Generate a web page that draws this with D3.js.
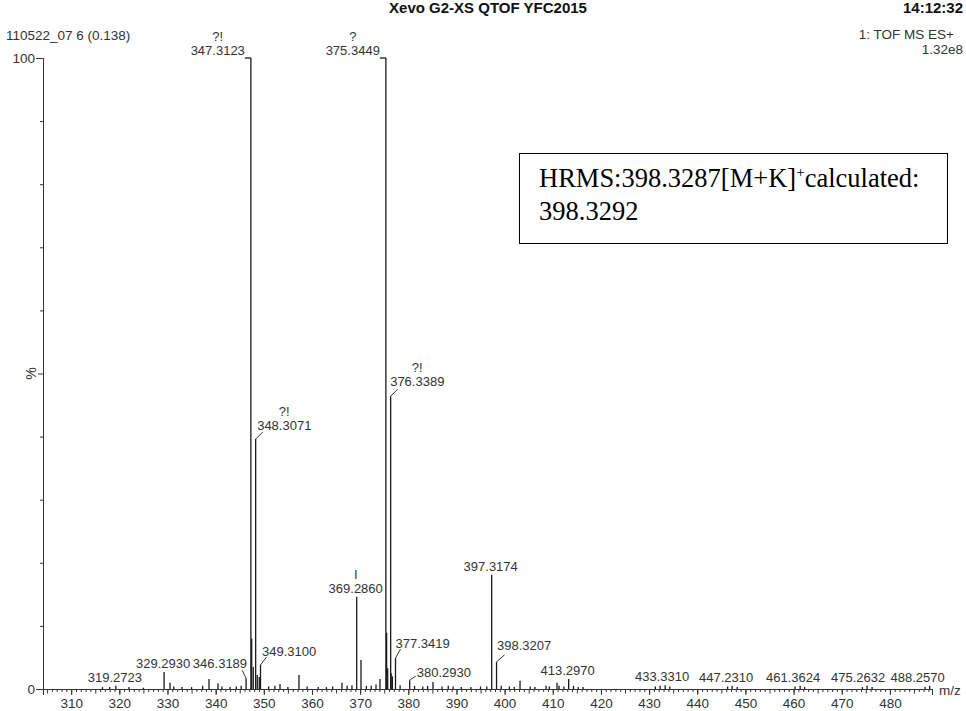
<!DOCTYPE html>
<html>
<head>
<meta charset="utf-8">
<script src="https://cdn.jsdelivr.net/npm/d3@7/dist/d3.min.js"></script>
<style>
  html, body { margin: 0; padding: 0; background: #fff; }
  svg { display: block; }
</style>
</head>
<body>
<script>
// Labelled peaks of the spectrum: m/z, relative intensity (%) and qualifier mark
const labeledMz   = [319.2723, 329.2930, 346.3189, 347.3123, 348.3071, 349.3100, 369.2860,
                     375.3449, 376.3389, 377.3419, 380.2930, 397.3174, 398.3207, 413.2970,
                     433.3310, 447.2310, 461.3624, 475.2632, 488.2570];
const labeledInt  = [0.5, 2.7, 1.7, 100, 39.6, 3.8, 14.6,
                     100, 46.4, 4.9, 1.4, 18.1, 4.3, 1.6,
                     0.6, 0.5, 0.5, 0.5, 0.5];
const labeledNote = ["", "", "", "?!", "?!", "", "I",
                     "?", "?!", "", "", "", "", "",
                     "", "", "", "", ""];

// Unlabelled peaks (isotope shoulders and baseline ions)
const otherMz  = [347.48, 347.81, 348.64, 349.06, 375.50, 375.72, 376.45, 376.70,
                  330.52, 338.62, 340.49, 353.36, 357.30, 366.23, 370.18, 374.12,
                  385.13, 403.20, 408.60, 410.88,
                  316.5, 318.0, 322.0, 325.0, 331.3, 333.0, 335.0, 337.3, 341.3, 343.0,
                  344.3, 345.3, 351.0, 352.3, 355.0, 359.0, 361.3, 363.0, 364.3, 367.3,
                  368.3, 371.3, 372.3, 373.3, 378.3, 381.3, 383.0, 384.0, 387.0, 388.3,
                  389.3, 391.0, 393.0, 395.0, 396.3, 399.3, 401.0, 402.0, 405.3, 406.3,
                  409.3, 411.3, 412.3, 414.3, 415.3, 416.3, 431.3, 432.3, 434.3, 446.3,
                  448.3, 460.3, 462.3, 474.3, 476.3, 487.3];
const otherInt = [8.0, 3.5, 2.2, 1.9, 8.9, 3.3, 2.5, 2.0,
                  1.0, 1.6, 0.9, 0.8, 2.2, 1.0, 4.6, 1.6,
                  1.1, 1.3, 0.5, 1.0,
                  0.3, 0.3, 0.3, 0.2, 0.4, 0.3, 0.3, 0.5, 0.4, 0.3,
                  0.4, 0.5, 0.4, 0.5, 0.3, 0.4, 0.3, 0.3, 0.4, 0.5,
                  0.6, 0.5, 0.5, 0.7, 0.6, 0.5, 0.4, 0.5, 0.4, 0.5,
                  0.4, 0.3, 0.3, 0.4, 0.4, 0.5, 0.4, 0.3, 0.4, 0.3,
                  0.4, 0.5, 0.4, 0.5, 0.3, 0.3, 0.4, 0.5, 0.4, 0.4,
                  0.3, 0.4, 0.3, 0.3, 0.3, 0.3];

// Axis tick labels
const xTickValues = [310, 320, 330, 340, 350, 360, 370, 380, 390, 400,
                     410, 420, 430, 440, 450, 460, 470, 480];
const yTickValues = [0, 100];

// Header and annotation text
const headerLeft   = "110522_07 6 (0.138)";
const headerTitle  = "Xevo G2-XS QTOF YFC2015";
const headerTime   = "14:12:32";
const headerScan   = "1: TOF MS ES+";
const headerScale  = "1.32e8";
const boxLine1     = ["HRMS:398.3287[M+K]", "+", "calculated:"];
const boxLine2     = "398.3292";

const W = 966, H = 711;
const margin = { left: 43, right: 34, top: 58, bottom: 22 };
const x = d3.scaleLinear().domain([304.15, 488.74]).range([margin.left, W - margin.right]);
const y = d3.scaleLinear().domain([0, 100]).range([H - margin.bottom, margin.top]);

const svg = d3.select("body").append("svg").attr("width", W).attr("height", H);
const sans = "'Liberation Sans', Arial, sans-serif";
const ink = "#333";

// ---- header ----
const hdr = svg.append("g").attr("font-family", sans).attr("fill", ink);
hdr.append("text").attr("x", 6).attr("y", 40).attr("font-size", 13.5).text(headerLeft);
hdr.append("text").attr("x", 488).attr("y", 13).attr("text-anchor", "middle")
  .attr("font-size", 15).attr("font-weight", "bold").attr("fill", "#111").text(headerTitle);
hdr.append("text").attr("x", 963).attr("y", 13).attr("text-anchor", "end")
  .attr("font-size", 15).attr("font-weight", "bold").attr("fill", "#111").text(headerTime);
hdr.append("text").attr("x", 954).attr("y", 39).attr("text-anchor", "end")
  .attr("font-size", 13.5).text(headerScan);
hdr.append("text").attr("x", 963).attr("y", 54).attr("text-anchor", "end")
  .attr("font-size", 13.5).text(headerScale);

// ---- axes ----
const y0 = y(0);
const xMinor = d3.axisBottom(x).tickValues(d3.range(305, 489, 1)).tickSize(3).tickFormat("");
const xMajor = d3.axisBottom(x).tickValues(xTickValues).tickSize(6).tickPadding(3);
const gxMinor = svg.append("g").attr("transform", `translate(0,${y0})`).call(xMinor);
const gx = svg.append("g").attr("transform", `translate(0,${y0})`).call(xMajor);
[gxMinor, gx].forEach(g => {
  g.select(".domain").attr("stroke", ink);
  g.selectAll(".tick line").attr("stroke", ink);
});
gxMinor.selectAll(".tick line").filter(d => d % 5 === 0).attr("y2", 4.5);
gx.selectAll("text").attr("font-family", sans).attr("font-size", 13.5).attr("fill", ink);

const yMinor = d3.axisLeft(y).tickValues(d3.range(10, 100, 10)).tickSize(3).tickFormat("");
const yMajor = d3.axisLeft(y).tickValues(yTickValues).tickSize(7).tickPadding(1);
const gyMinor = svg.append("g").attr("transform", `translate(${margin.left},0)`).call(yMinor);
const gy = svg.append("g").attr("transform", `translate(${margin.left},0)`).call(yMajor);
[gyMinor, gy].forEach(g => {
  g.select(".domain").attr("stroke", ink);
  g.selectAll(".tick line").attr("stroke", ink);
});
gyMinor.selectAll(".tick line").filter(d => d === 50).attr("x2", -5);
gy.selectAll("text").attr("font-family", sans).attr("font-size", 13.5).attr("fill", ink);

svg.append("text").attr("font-family", sans).attr("font-size", 14).attr("fill", ink)
  .attr("transform", `translate(36,${y(50)}) rotate(-90)`).attr("text-anchor", "middle")
  .text("%");
svg.append("text").attr("font-family", sans).attr("font-size", 13.5).attr("fill", ink)
  .attr("x", 939).attr("y", y0 + 6).text("m/z");

// ---- peaks ----
const peaks = otherMz.map((m, i) => ({ mz: m, v: otherInt[i] }))
  .concat(labeledMz.map((m, i) => ({ mz: m, v: labeledInt[i] })));
svg.append("g").selectAll("line").data(peaks).join("line")
  .attr("x1", d => x(d.mz)).attr("x2", d => x(d.mz))
  .attr("y1", y0).attr("y2", d => y(d.v))
  .attr("stroke", "#1a1a1a").attr("stroke-width", 1.3);

// ---- peak labels ----
// placement: "c" centred above, "bl" bracket to the left, "r" leader to the right, "l" leader to the left
const placement = {
  347.3123: { kind: "bl" }, 375.3449: { kind: "bl" },
  348.3071: { kind: "r", tx: 1.5, ty: 9, cx: 7, cy: 7 },
  349.3100: { kind: "r", tx: 1.5, ty: 9.5, cx: 6, cy: 8 },
  376.3389: { kind: "r", tx: -0.5, ty: 10.5, cx: 7, cy: 7 },
  377.3419: { kind: "r", tx: 0, ty: 10.5, cx: 5, cy: 9 },
  380.2930: { kind: "r", tx: 7, ty: 3.5, cx: 6, cy: 4 },
  398.3207: { kind: "r", tx: 0.5, ty: 11.5, cx: 8, cy: 7 },
  346.3189: { kind: "l", tx: 1, ty: 10.5, cx: -4, cy: 8 },
  433.3310: { kind: "c", dx: -2 },
  447.2310: { kind: "c", dx: -5 },
  461.3624: { kind: "c", dx: -6 },
  475.2632: { kind: "c", dx: -8 },
  488.2570: { kind: "c", dx: -11 }
};
const lab = svg.append("g").attr("font-family", sans).attr("font-size", 13).attr("fill", ink);
labeledMz.forEach((m, i) => {
  const px = x(m), top = y(labeledInt[i]);
  const p = placement[m] || { kind: "c" };
  const txt = m.toFixed(4);
  let tx, ty, anchor;
  if (p.kind === "bl") {
    lab.append("line").attr("x1", px - 6).attr("x2", px).attr("y1", top).attr("y2", top)
      .attr("stroke", "#1a1a1a").attr("stroke-width", 1.3);
    tx = px - 6; ty = top - 3; anchor = "end";
  } else if (p.kind === "r" || p.kind === "l") {
    lab.append("line").attr("x1", px).attr("y1", top).attr("x2", px + p.cx).attr("y2", top - p.cy)
      .attr("stroke", ink).attr("stroke-width", 1);
    tx = px + p.tx; ty = top - p.ty; anchor = p.kind === "r" ? "start" : "end";
  } else {
    tx = px - 1 + (p.dx || 0); ty = top - 4; anchor = "middle";
  }
  const t = lab.append("text").attr("x", tx).attr("y", ty).attr("text-anchor", anchor).text(txt);
  if (labeledNote[i]) {
    const w = t.node().getComputedTextLength();
    const cxText = anchor === "middle" ? tx : anchor === "start" ? tx + w / 2 : tx - w / 2;
    lab.append("text").attr("x", cxText).attr("y", ty - 14).attr("text-anchor", "middle")
      .text(labeledNote[i]);
  }
});

// ---- annotation box ----
const box = svg.append("g");
box.append("rect").attr("x", 519.5).attr("y", 153.5).attr("width", 428).attr("height", 90)
  .attr("fill", "#fff").attr("stroke", "#000").attr("stroke-width", 1);
const serif = "'Liberation Serif', 'Times New Roman', serif";
const t1 = box.append("text").attr("x", 539).attr("y", 187).attr("font-family", serif)
  .attr("font-size", 26.5).attr("fill", "#000");
t1.append("tspan").text(boxLine1[0]);
t1.append("tspan").attr("font-size", 15).attr("dy", -10).text(boxLine1[1]);
t1.append("tspan").attr("dy", 10).text(boxLine1[2]);
box.append("text").attr("x", 539).attr("y", 220).attr("font-family", serif)
  .attr("font-size", 26.5).attr("fill", "#000").text(boxLine2);
</script>
</body>
</html>
